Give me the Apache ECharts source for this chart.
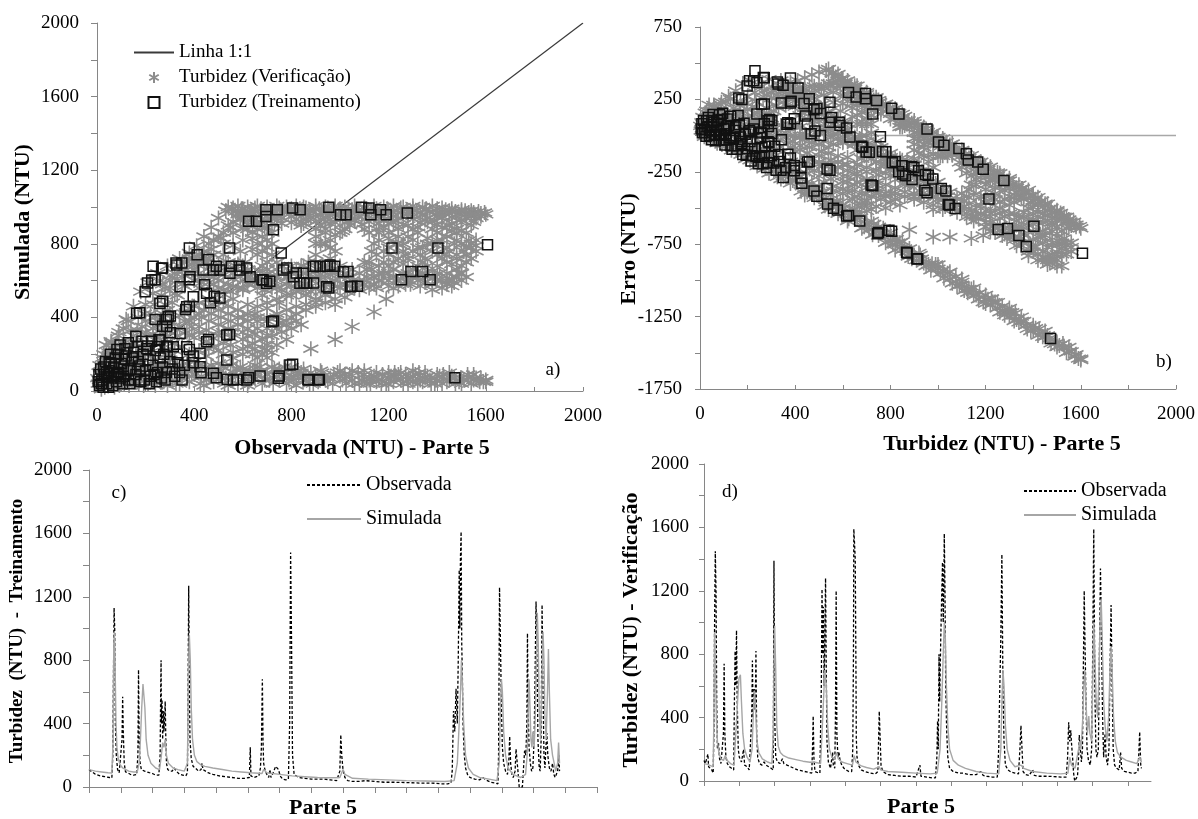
<!DOCTYPE html>
<html>
<head>
<meta charset="utf-8">
<script src="https://cdn.jsdelivr.net/npm/echarts@6/dist/echarts.min.js"></script>
<style>
  html, body { margin: 0; padding: 0; background: #fff; }
  #chart { width: 1198px; height: 819px; }
</style>
</head>
<body>
<div id="chart"></div>
<script>
// ---- Scatter pairs [observada, simulada] in NTU ----
const verificacao = [
  // low-turbidity cluster
  [5,40],[10,60],[15,90],[20,30],[25,120],[30,70],[35,150],[40,50],[45,100],[50,180],[55,80],[60,130],[65,40],[70,200],[75,110],[80,60],[85,160],[90,90],[95,220],[100,130],[105,50],[110,180],[115,100],[120,240],[125,70],[130,150],[140,200],[150,110],[160,260],[170,80],[180,180],[190,130],[200,60],[12,140],[22,180],[32,20],[42,170],[52,40],[62,230],[72,20],[82,140],[92,30],[102,80],[112,40],[122,120],[132,30],[142,90],[152,50],[162,140],[172,40],[182,100],[192,30],[8,100],[18,10],[28,200],[48,210],[68,150],[3,70],[38,250],[58,270],[78,250],[88,300],[108,340],[128,380],
  [140,260],[150,300],[165,330],[185,350],[200,380],[220,420],[205,300],[230,340],[250,380],[270,420],[240,280],[260,330],[280,370],[300,420],[290,300],[320,340],[310,260],[330,300],[340,350],[360,380],[370,320],[390,350],[160,180],[200,200],[240,170],[280,200],[320,220],
  // rising limbs
  [60,260],[90,320],[120,390],[150,460],[180,540],[210,590],[250,640],[290,680],[340,720],[380,750],[410,790],[440,840],[470,890],[500,940],[530,980],[560,995],
  [80,200],[110,260],[140,330],[170,400],[200,470],[230,530],[270,580],[310,620],[350,660],[390,690],[430,720],[470,770],[510,830],[550,890],[590,940],[630,975],
  [120,180],[160,240],[200,320],[240,400],[280,470],[320,530],[360,570],[400,600],[440,630],[490,660],[540,700],[590,760],[640,830],[690,890],[740,940],[790,975],
  [180,150],[220,210],[260,280],[300,350],[340,410],[380,450],[420,480],[460,500],[500,520],[550,540],[600,560],[650,600],[700,660],[940,920],[1000,960],
  [250,140],[300,190],[350,240],[400,290],[450,330],[500,360],[550,380],[600,400],[650,420],[700,450],[750,480],[800,520],[850,560],
  [350,120],[400,160],[450,190],[500,220],[550,250],[600,280],[650,310],[700,340],[750,370],[800,400],
  [195,420],[235,470],[265,520],[300,560],[330,600],[360,630],[420,680],[460,720],[480,680],[520,740],[560,790],[600,820],[620,880],[660,910],[700,930],[720,970],[680,960],[610,700],[660,740],[720,800],[840,920],[870,950],[930,970],[400,400],[440,440],[480,470],[520,480],[560,500],[620,470],[680,520],[720,560],[780,620],[840,680],[900,740],[960,820],[1020,880],[1060,930],
  [260,600],[280,560],[300,600],[320,640],[340,680],[360,700],[380,720],[400,700],[420,740],[440,760],[460,800],[480,820],[500,840],[520,860],[540,900],[560,920],[580,960],[600,960],[640,960],[560,860],[600,880],[520,800],[480,740],[440,700],[400,720],[370,660],[350,580],[330,520],[310,480],[290,440],[270,400],[250,360],[230,310],[210,260],[190,230],[170,200],
  // upper plateau
  [600,990],[650,995],[700,985],[750,995],[800,990],[850,1000],[900,985],[950,995],[1000,990],[1050,985],[1100,995],[1150,990],[1200,985],[1250,995],[1300,990],[1350,985],[1400,990],[1450,980],[1500,975],[1550,970],[1600,960],[1580,965],[1520,960],
  [620,950],[680,960],[740,955],[800,950],[860,960],[920,955],[980,960],[1040,950],[1100,960],[1160,955],[1220,950],[1280,960],[1340,955],[1400,950],[1460,945],[1540,950],
  [760,910],[840,900],[900,920],[960,910],[1040,900],[1120,920],[1200,910],[1280,900],[1360,920],[1440,900],[1480,880],[1520,860],
  [540,1000],[580,1005],[620,1000],[660,1005],[700,1000],[740,1005],[780,1000],[820,1005],[860,995],[900,1005],[940,1000],[980,1005],[1020,1000],[1060,1005],[1100,1000],[1140,1005],[1180,1000],[1220,1005],[1260,1000],[1300,1005],[1340,1000],[1380,1005],[1420,995],[1460,990],[1500,985],[1540,980],
  [570,975],[610,970],[650,975],[690,970],[730,975],[770,970],[810,975],[850,970],[890,975],[930,970],[970,975],[1010,970],[1050,975],[1090,970],[1130,975],[1170,970],[1210,975],[1250,970],[1290,975],[1330,970],[1370,975],[1410,970],[1450,965],[1490,960],[1530,970],[1570,975],
  [590,930],[650,935],[700,925],[860,930],[920,935],[960,930],[1010,935],[1060,925],[1140,935],[1180,930],[1230,925],[1300,935],[1350,930],[1390,925],[1420,940],[1500,930],[1560,940],
  [660,880],[700,890],[940,880],[1010,870],[1150,880],[1180,890],[1240,880],[1320,890],[1380,880],[1420,890],[1460,870],[1540,900],
  [555,985],[595,990],[635,985],[675,990],[715,980],[755,985],[795,980],[835,990],[875,980],[915,990],[955,980],[995,985],[1035,990],[1075,980],[1115,985],[1155,980],[1195,990],[1235,980],[1275,985],[1315,980],[1355,990],[1395,980],[1435,985],[1475,975],[1515,980],[1555,960],[1595,970],
  [600,945],[640,940],[680,935],[720,945],[760,940],[820,935],[880,945],[940,940],[1000,945],[1060,940],[1120,945],[1180,950],[1240,940],[1300,950],[1360,940],[1420,950],[1480,945],[1520,940],[1580,950],
  [620,905],[680,915],[730,905],[800,915],[850,910],[920,900],[980,915],[1030,920],[1090,905],[1160,910],[1220,915],[1260,905],[1330,915],[1400,905],[1460,910],[1500,915],[1550,920],
  // band near 800
  [900,800],[960,780],[1140,800],[1200,780],[1260,800],[1320,780],[1380,800],[1440,780],[1500,800],[1540,800],[1560,790],[1480,860],[1500,870],[1000,860],[1100,880],[1200,860],[1300,880],[1400,860],[1450,900],[1240,840],[1360,830],[1420,820],[1150,740],[1270,740],[1350,720],[1450,760],[1540,780],
  [700,780],[720,740],[740,700],[920,800],[960,720],[980,760],[900,650],[950,680],[1130,760],[1160,820],[1180,760],[1230,800],[1260,760],[1300,820],[1330,740],[1380,760],[1400,820],[1430,740],[1470,800],[1510,760],[1530,820],[1560,760],[1130,660],[1180,640],[1220,660],[1280,640],[1320,680],[1360,620],[1400,680],[1440,640],[1480,660],[1520,620],[1460,600],[1500,640],[1520,700],[1480,720],
  [640,860],[680,840],[720,860],[700,820],[660,800],[640,770],[680,760],[900,880],[940,860],[980,850],[900,840],[940,800],[1120,860],[1160,860],[1200,830],[1240,800],[1280,840],[1320,860],[1360,800],[1400,790],[1440,840],[1480,820],[1520,780],[1560,820],[1200,740],[1240,720],[1300,760],[1340,780],[1420,720],[1480,740],[1520,740],[1120,700],[1160,680],[1220,700],[1280,720],[1360,680],[1400,740],[1440,700],[1500,680],[1540,720],[1460,690],
  // band near 600
  [500,600],[560,610],[620,620],[680,600],[740,620],[800,600],[860,640],[920,620],[980,600],[1040,620],[1100,600],[1160,640],[1220,620],[1280,600],[1340,640],[1400,600],[1440,580],[1480,620],[1500,600],[1420,560],[600,680],[700,700],[800,680],[900,700],[1000,680],[1100,700],[1200,680],[1300,660],[1380,650],[1060,560],[1140,580],[1240,570],[1320,600],[960,550],[880,540],[1180,700],[1260,690],[1340,700],
  [400,660],[420,640],[450,700],[480,620],[500,650],[530,690],[560,640],[590,620],[620,660],[650,640],[680,680],[710,620],[740,660],[770,640],[800,650],[830,620],[850,680],[880,600],[910,660],[940,620],[970,650],[1000,620],[1020,580],[1050,600],[1080,640],[1110,620],
  [420,560],[460,590],[500,560],[540,580],[580,560],[620,580],[660,560],[700,580],[740,560],[780,580],[820,560],[860,580],[900,560],[940,580],[990,570],[1030,540],[1080,550],[1120,560],[1160,600],[1200,600],[1250,610],[1300,620],[1350,590],[1390,620],[1450,610],
  [390,640],[410,700],[440,610],[470,650],[500,690],[520,630],[550,660],[580,690],[610,640],[640,610],[670,650],[700,640],[730,600],[760,680],[790,620],[820,660],[850,640],[870,700],[900,620],[930,680],[960,630],[990,660],[1020,640],[1050,660],[1080,600],[1110,660],[1140,620],[1170,600],[1200,640],[1230,600],[1260,640],[1290,580],[1320,620],[1350,640],[1380,580],[1410,640],[1440,600],[1470,590],[1490,640],
  [430,590],[480,580],[520,550],[560,570],[600,550],[650,590],[690,550],[720,590],[760,550],[800,570],[840,550],[880,570],[920,540],[960,580],[1000,560],[1040,570],[1100,580],[1150,560],[1200,570],[1270,580],[1330,570],[1380,550],[1420,600],[1460,570],
  // lower fan
  [380,380],[420,420],[460,460],[500,440],[540,460],[580,440],[620,420],[660,460],[700,480],[740,500],[780,520],[820,540],[860,520],[900,500],[940,520],[980,500],[1020,510],
  [420,350],[460,380],[500,320],[540,340],[580,360],[620,340],[660,380],[700,400],[740,420],[780,440],[820,460],[860,470],[900,480],
  [450,270],[500,300],[550,290],[600,320],[640,260],[680,280],[720,300],[760,320],[800,340],[840,360],
  [480,240],[520,260],[560,210],[600,230],[640,200],[700,220],[740,250],[780,280],
  [360,420],[400,460],[430,400],[470,420],[510,400],[540,420],[580,400],[620,380],[660,400],[700,380],[740,400],[780,380],[820,420],[860,440],[900,460],[940,480],[980,470],
  [380,300],[420,320],[460,300],[520,320],[560,320],[620,300],[660,340],[700,300],[740,340],[780,360],[820,380],
  [380,200],[420,220],[460,230],[520,200],[560,180],[600,200],[620,240],[660,180],[690,230],
  [720,210],[880,230],[980,280],[1050,350],[1140,430],[1190,500],[1220,560],
  // bottom band
  [200,90],[250,80],[300,100],[350,70],[400,90],[450,60],[500,80],[550,60],[600,100],[650,70],[700,90],[750,60],[800,80],[850,60],[900,70],[950,50],[1000,80],[1050,60],[1100,70],[1150,50],[1200,70],[1250,60],[1300,50],[1350,70],[1400,60],[1450,60],[1500,70],[1550,60],[1600,60],
  [250,150],[300,170],[350,140],[400,160],[450,130],[500,150],[550,140],[600,120],[650,140],[700,180],[750,120],[1100,90],[1130,70],[1200,100],[1220,50],[1270,90],[1280,60],[1300,80],[1330,60],
  [225,120],[275,50],[325,40],[375,110],[425,40],[475,110],[525,40],[575,120],[625,50],[675,110],[725,40],[775,100],[825,110],[875,40],[925,100],[975,90],[1025,40],[1075,100],[1125,40],[1175,90],[1225,100],[1325,100],[1375,40],[1425,90],[1475,40],[1525,90],[1575,50],[800,130],[850,120],[700,250],[680,200],[650,230],
  [210,40],[230,70],[260,110],[280,90],[310,60],[330,130],[360,100],[380,50],[410,120],[430,80],[460,90],[480,50],[510,110],[530,70],[560,100],[580,40],[610,70],[630,110],[660,90],[680,40],[710,60],[730,120],[760,90],[780,40],[810,60],[830,90],[860,80],[880,100],[910,50],[930,80],[960,70],[990,100],[1010,60],[1040,90],[1060,40],[1090,60],[1110,40],[1140,80],[1160,60],[1190,40],[1210,80],[1240,90],[1260,40],[1290,70],[1310,90],[1340,50],[1360,80],[1390,40],[1410,80],[1440,50],[1460,80],[1490,50],[1510,60],[1540,40],[1560,70],[1590,50],
  [220,100],[240,30],[270,140],[290,30],[320,110],[340,40],[370,150],[390,80],[420,140],[440,30],[470,140],[490,80],[520,130],[540,30],[570,80],[590,130],[620,30],[640,100],[670,130],[690,60],[720,130],[740,80],[770,130],[790,60],[820,30],[840,100],[870,70],[890,40],[920,110],[940,60],[970,40],[1000,110],[1020,90],[1050,110],[1080,40],[1100,110],[1120,60],[1150,100],[1170,40],[1200,40],[1230,80],[1250,100],[1280,40],[1300,110],[1320,40],[1350,100],[1370,60],[1400,90],[1420,40],[1450,100],[1470,70],[1500,40],[1530,70],[1550,90],[1580,70],[1600,50]
];

const treinamento = [
  [695,985],[742,985],[805,994],[836,985],[954,999],[1002,958],[1025,958],[1088,999],[1119,994],[1127,958],[1167,985],[1190,958],[1277,967],[624,922],[656,922],[726,876],[695,949],[758,750],[1214,777],[1403,777],[1607,795],[546,777],[380,777],[412,741],[325,696],[349,696],[231,678],[270,669],[459,714],[491,678],[553,678],[585,678],[616,669],[679,605],[711,596],[781,669],[820,641],[852,587],[891,587],[899,678],[947,678],[978,678],[954,560],[1033,650],[1049,569],[1072,569],[1253,605],[1292,650],[1340,650],[1371,605],
  [208,587],[239,605],[380,605],[443,578],[483,515],[506,506],[467,479],[365,443],[380,461],[270,488],[176,425],[302,407],[286,389],[546,307],[459,280],[380,226],[396,190],[333,154],[396,154],[428,99],[491,72],[536,63],[577,63],[624,72],[671,81],[750,81],[805,145],[868,63],[915,63],[726,380],[1473,72],
  [239,389],[270,352],[302,316],[255,280],[208,244],[286,244],[160,298],[129,262],[82,226],[113,172],[50,154],[176,136],
  [198,540],[266,667],[328,685],[383,621],[437,658],[479,658],[506,658],[547,640],[588,658],[630,621],[684,603],[698,585],[767,658],[808,621],[849,640],[890,676],[918,676],[959,685],[1014,648],[1043,567],[945,567],[863,585],[835,585],
  [342,567],[396,512],[451,531],[369,458],[259,476],[293,404],[287,350],[342,313],[259,277],[314,241],[369,241],[424,205],[451,268],[534,304],[719,377],[534,168],[424,132],[479,96],[561,60],[616,60],[746,69],[794,141],[870,60],[911,60],[163,422],[225,603],
  [10,30],[20,60],[30,90],[40,40],[50,110],[60,70],[70,130],[80,50],[90,100],[100,150],[110,80],[120,190],[130,60],[140,120],[150,210],[160,90],[170,160],[180,50],[190,200],[200,110],[210,170],[220,80],[230,140],[240,220],[250,100],[260,180],[270,130],[280,60],[290,240],[300,160],
  [15,120],[25,20],[35,160],[45,80],[55,200],[65,30],[75,180],[85,90],[95,250],[105,40],[115,230],[125,110],[135,40],[145,180],[155,60],[165,240],[175,120],[185,270],[195,60],[205,230],[215,40],[225,270],[235,90],[245,50],[255,240],[265,70],[275,200],[285,100],[310,120],[320,80],[330,200],[340,100],[350,60],[360,140],[5,50],[8,90],[18,40],[28,130],[38,100],[48,20],[58,150],[68,100],[78,80],[88,200],[98,70],[108,120]
];

// Reference lines
const linha11 = [[0, 0], [2000, 2000]];
const linhaZero = [[0, 0], [2000, 0]];

// ---- Time series [time step, NTU], training period ----
const obsTreino = [
  [0,110],[10,95],[20,80],[35,70],[50,65],[65,60],[72,58],[75,200],[77,700],[79,1130],[81,1000],[83,400],[86,200],[90,110],[95,90],[100,100],[104,300],[106,570],[108,350],[111,150],[115,95],[122,90],[130,80],[140,75],[150,78],[154,200],[156,740],[158,300],[161,150],[165,110],[170,120],[175,100],[182,95],[190,90],[200,85],[210,75],[220,75],[224,200],[226,650],[227,800],[228,400],[230,550],[232,300],[234,480],[236,350],[238,420],[240,540],[242,300],[244,150],[248,110],[255,100],[262,100],[268,120],[275,100],[285,80],[295,75],[305,70],[310,90],[312,600],[314,1270],[316,700],[318,300],[322,180],[328,130],[335,120],[345,100],[353,110],[356,150],[359,110],[365,100],[375,90],[390,80],[410,70],[430,65],[450,60],[470,55],[490,55],[505,60],[508,250],[510,70],[520,60],[535,70],[540,120],[543,250],[546,680],[548,300],[550,150],[555,100],[560,80],[566,60],[570,110],[573,60],[580,90],[588,130],[592,140],[597,110],[602,70],[610,50],[620,45],[628,50],[632,400],[635,1480],[638,900],[641,200],[646,80],[660,60],[680,55],[700,50],[720,50],[740,50],[760,45],[780,40],[790,100],[793,330],[796,200],[800,110],[806,60],[815,40],[830,35],[850,35],[870,40],[900,35],[930,30],[960,30],[1000,28],[1040,25],[1080,25],[1110,20],[1130,20],[1140,25],[1144,100],[1148,480],[1152,350],[1156,620],[1160,400],[1163,800],[1166,1370],[1168,1000],[1170,1450],[1172,1610],[1174,900],[1176,700],[1178,400],[1182,200],[1186,120],[1192,80],[1200,60],[1215,50],[1230,45],[1240,60],[1250,45],[1265,30],[1280,25],[1288,20],[1290,200],[1293,1260],[1296,900],[1299,500],[1302,250],[1306,150],[1312,100],[1318,80],[1322,150],[1325,320],[1328,150],[1332,80],[1336,60],[1342,100],[1345,240],[1348,230],[1351,100],[1355,0],[1360,0],[1365,0],[1368,100],[1372,230],[1376,200],[1379,400],[1381,970],[1383,500],[1386,250],[1390,150],[1394,100],[1398,120],[1402,300],[1405,700],[1408,1170],[1411,800],[1414,300],[1418,120],[1421,100],[1424,300],[1427,1150],[1430,600],[1433,200],[1436,120],[1439,250],[1442,340],[1445,200],[1450,120],[1455,100],[1460,150],[1464,80],[1468,60],[1472,50],[1476,100],[1480,200],[1482,100]
];
const simTreino = [
  [0,110],[20,100],[40,95],[60,90],[72,88],[76,300],[78,900],[80,980],[82,800],[85,400],[88,250],[92,180],[98,140],[106,120],[112,110],[125,100],[140,95],[152,95],[158,150],[162,300],[166,500],[170,650],[173,640],[176,500],[180,300],[186,200],[195,150],[210,120],[222,110],[228,200],[232,280],[236,250],[240,300],[244,200],[250,150],[265,120],[280,110],[300,100],[310,150],[313,700],[316,960],[319,800],[322,500],[326,300],[332,200],[340,160],[352,140],[365,130],[390,120],[420,110],[450,100],[480,95],[510,90],[545,85],[550,110],[560,90],[600,80],[640,70],[680,65],[720,60],[760,58],[790,60],[800,110],[806,80],[830,55],[880,50],[940,45],[1000,40],[1060,38],[1120,35],[1150,40],[1160,150],[1166,400],[1170,600],[1173,800],[1176,650],[1180,400],[1186,200],[1195,120],[1210,80],[1230,60],[1260,50],[1285,40],[1292,150],[1296,500],[1299,680],[1302,600],[1306,350],[1312,200],[1320,120],[1335,80],[1360,60],[1375,80],[1380,200],[1383,450],[1386,680],[1389,500],[1392,300],[1395,250],[1398,350],[1402,250],[1405,400],[1409,800],[1412,1100],[1415,900],[1418,500],[1422,300],[1426,600],[1430,980],[1433,800],[1436,450],[1440,300],[1444,600],[1447,870],[1450,600],[1454,300],[1460,200],[1465,150],[1470,100],[1476,150],[1479,280],[1482,150]
];

// ---- Time series [time step, NTU], verification period ----
const obsVerif = [
  [0,130],[4,110],[8,100],[11,170],[13,90],[18,80],[22,70],[26,50],[28,300],[30,1000],[32,1450],[34,1200],[36,500],[38,200],[41,240],[44,140],[48,110],[52,100],[55,300],[57,740],[59,300],[62,150],[66,110],[72,90],[78,80],[84,70],[86,500],[88,820],[90,600],[92,950],[94,500],[97,200],[100,150],[106,120],[112,200],[115,100],[122,90],[128,70],[133,60],[135,400],[137,760],[139,400],[142,580],[145,450],[147,820],[149,300],[152,150],[157,110],[164,100],[170,120],[176,100],[183,90],[190,80],[196,70],[198,1390],[200,400],[203,150],[208,120],[215,110],[222,140],[226,110],[235,100],[245,90],[255,80],[265,70],[275,65],[285,60],[295,55],[305,50],[307,200],[309,410],[311,150],[314,60],[320,55],[328,50],[332,600],[334,1210],[336,800],[338,1100],[340,600],[342,900],[344,1280],[346,700],[348,250],[352,120],[358,80],[362,70],[364,180],[366,100],[370,80],[372,400],[374,1200],[376,300],[379,150],[382,180],[385,130],[390,100],[396,80],[402,70],[410,60],[418,60],[421,200],[423,800],[424,1590],[426,1500],[428,1400],[430,700],[431,270],[433,150],[437,100],[445,70],[455,60],[470,50],[485,45],[492,60],[494,250],[496,440],[498,300],[501,100],[506,60],[520,40],[540,35],[560,30],[580,30],[600,25],[611,100],[614,30],[630,25],[645,20],[655,20],[659,150],[661,380],[663,200],[665,800],[667,500],[670,900],[673,1200],[675,1380],[677,1000],[679,1300],[680,1560],[682,1200],[684,600],[687,300],[690,150],[695,80],[705,60],[720,50],[734,50],[750,40],[770,40],[783,60],[790,35],[800,30],[815,25],[830,25],[834,200],[837,580],[840,900],[843,1430],[846,600],[849,250],[853,100],[860,70],[870,55],[880,50],[890,45],[894,200],[897,350],[900,200],[903,60],[910,40],[920,35],[930,70],[935,35],[950,30],[970,30],[990,28],[1010,25],[1025,25],[1029,150],[1032,370],[1035,250],[1038,320],[1040,240],[1043,150],[1046,50],[1049,0],[1053,0],[1057,30],[1060,150],[1062,290],[1065,200],[1068,120],[1071,200],[1073,600],[1076,1200],[1078,900],[1081,500],[1084,200],[1088,130],[1093,100],[1097,200],[1100,800],[1103,1590],[1106,600],[1109,200],[1112,150],[1116,200],[1119,800],[1122,1340],[1125,900],[1128,400],[1131,150],[1135,300],[1138,150],[1142,100],[1146,200],[1149,700],[1152,1110],[1155,600],[1158,200],[1162,100],[1168,80],[1175,70],[1179,180],[1182,80],[1190,60],[1200,55],[1210,50],[1220,50],[1228,60],[1230,150],[1233,310],[1236,100],[1238,80]
];
const simVerif = [
  [0,110],[10,105],[20,95],[26,90],[28,400],[30,940],[32,800],[35,400],[38,250],[42,180],[48,140],[55,130],[60,160],[66,130],[75,110],[85,100],[90,300],[95,500],[99,650],[103,670],[106,500],[110,300],[115,200],[122,150],[130,120],[136,200],[140,450],[143,570],[146,450],[150,250],[155,180],[165,140],[180,120],[192,110],[196,300],[198,700],[200,980],[203,700],[206,350],[210,220],[216,180],[225,160],[240,145],[260,135],[280,125],[300,118],[310,120],[320,115],[330,110],[334,300],[338,500],[342,700],[346,600],[350,350],[355,200],[362,150],[370,140],[376,180],[380,140],[390,120],[405,110],[420,100],[425,160],[430,120],[445,95],[460,85],[480,75],[496,90],[500,70],[520,60],[560,55],[600,50],[640,45],[660,50],[668,200],[673,500],[677,800],[680,1000],[683,900],[686,600],[690,350],[695,200],[705,130],[720,100],[740,80],[770,60],[800,50],[834,45],[840,200],[843,500],[846,700],[849,600],[853,350],[858,200],[866,130],[880,90],[897,100],[905,80],[930,60],[970,50],[1010,45],[1030,50],[1035,150],[1040,100],[1050,80],[1060,200],[1063,250],[1067,200],[1072,400],[1075,600],[1078,700],[1081,500],[1085,300],[1089,410],[1092,300],[1097,250],[1100,600],[1103,1000],[1106,800],[1110,500],[1114,400],[1118,700],[1121,1000],[1124,1150],[1127,900],[1131,500],[1135,350],[1140,250],[1145,400],[1149,700],[1152,850],[1155,700],[1159,400],[1164,250],[1170,180],[1180,150],[1195,130],[1210,120],[1225,110],[1233,150],[1238,120]
];

// Tick positions of the verification time axis
const ticksVerif = [0,100,200,300,400,500,600,700,800,900,1000,1100,1200];

// Error = simulated - observed
const erroVerificacao = verificacao.map(p => [p[0], p[1] - p[0]]);
const erroTreinamento = treinamento.map(p => [p[0], p[1] - p[0]]);

const FONT = '"Liberation Serif", "Times New Roman", serif';
const AXIS_GRAY = '#868686';
const STAR_GRAY = '#8c8c8c';
const STAR = 'path://M5,0L5,10M0.67,2.5L9.33,7.5M0.67,7.5L9.33,2.5';
const SQUARE = 'path://M0,0L10,0L10,10L0,10Z';
const CLEAR = 'rgba(0,0,0,0)';

const chart = echarts.init(document.getElementById('chart'), null, { renderer: 'canvas' });

function valueAxis(gridIndex, o) {
  return Object.assign({
    type: 'value',
    gridIndex: gridIndex,
    splitLine: { show: false },
    axisLine: { show: true, onZero: false, lineStyle: { color: AXIS_GRAY, width: 1 } },
    axisTick: { show: true, lineStyle: { color: AXIS_GRAY } },
    axisLabel: { color: '#000', fontFamily: FONT, fontSize: 19 }
  }, o);
}

function labelsEvery(step, base) {
  return v => ((v - base) % step === 0 ? String(v) : '');
}

const titleFont = 'bold 22px ' + FONT;
function title(text, x, y, rot, font) {
  return {
    type: 'text', x: x, y: y, rotation: rot || 0, silent: true,
    style: { text: text, font: font || titleFont, fill: '#000',
             align: 'center', verticalAlign: 'middle',
             textAlign: 'center', textVerticalAlign: 'middle' }
  };
}

const legendText = { fontFamily: FONT, fontSize: 19, color: '#000' };
const hiddenMarker = { opacity: 0 };
const starStyle = { color: CLEAR, borderColor: STAR_GRAY, borderWidth: 1.6, opacity: 1 };
const squareStyle = { color: CLEAR, borderColor: '#111', borderWidth: 1.5, opacity: 1 };

const option = {
  backgroundColor: '#fff',
  animation: false,
  grid: [
    { left: 97, top: 23, width: 486, height: 368 },
    { left: 700, top: 27, width: 480, height: 362 },
    { left: 89, top: 470, width: 508, height: 317 },
    { left: 704, top: 464, width: 447, height: 317 }
  ],
  xAxis: [
    valueAxis(0, { min: 0, max: 2000, interval: 200,
      axisTick: { show: true, inside: true, length: 4, lineStyle: { color: AXIS_GRAY } },
      axisLabel: { color: '#000', fontFamily: FONT, fontSize: 19, margin: 16, formatter: labelsEvery(400, 0) } }),
    valueAxis(1, { min: 0, max: 2000, interval: 200,
      axisTick: { show: true, inside: true, length: 4, lineStyle: { color: AXIS_GRAY } },
      axisLabel: { color: '#000', fontFamily: FONT, fontSize: 19, margin: 16, formatter: labelsEvery(400, 0) } }),
    valueAxis(2, { min: 0, max: 1600, interval: 100,
      axisTick: { show: true, length: 6, lineStyle: { color: AXIS_GRAY } },
      axisLabel: { show: false } }),
    valueAxis(3, { min: 0, max: 1265,
      axisTick: { show: true, length: 5, customValues: ticksVerif, lineStyle: { color: AXIS_GRAY } },
      axisLabel: { show: false } })
  ],
  yAxis: [
    valueAxis(0, { min: 0, max: 2000, interval: 200,
      axisTick: { show: true, length: 6, lineStyle: { color: AXIS_GRAY } },
      axisLabel: { color: '#000', fontFamily: FONT, fontSize: 19, margin: 18, formatter: labelsEvery(400, 0) } }),
    valueAxis(1, { min: -1750, max: 750, interval: 250,
      axisTick: { show: true, length: 5, lineStyle: { color: AXIS_GRAY } },
      axisLabel: { color: '#000', fontFamily: FONT, fontSize: 19, margin: 18, formatter: labelsEvery(500, -1750) } }),
    valueAxis(2, { min: 0, max: 2000, interval: 200,
      axisTick: { show: true, length: 6, lineStyle: { color: AXIS_GRAY } },
      axisLabel: { color: '#000', fontFamily: FONT, fontSize: 19, margin: 17, formatter: labelsEvery(400, 0) } }),
    valueAxis(3, { min: 0, max: 2000, interval: 200,
      axisTick: { show: true, length: 5, lineStyle: { color: AXIS_GRAY } },
      axisLabel: { color: '#000', fontFamily: FONT, fontSize: 19, margin: 15, formatter: labelsEvery(400, 0) } })
  ],
  legend: [
    { orient: 'vertical', left: 133, top: 43, padding: 0, itemWidth: 40, itemHeight: 11, itemGap: 6,
      selectedMode: false, textStyle: legendText,
      data: [{ name: 'Linha 1:1', itemStyle: hiddenMarker }, 'Turbidez (Verificação)', 'Turbidez (Treinamento)'] },
    { orient: 'vertical', left: 306, top: 475, padding: 0, itemWidth: 54, itemHeight: 14, itemGap: 14,
      selectedMode: false, itemStyle: hiddenMarker,
      textStyle: Object.assign({}, legendText, { fontSize: 20 }),
      data: ['Observada', 'Simulada'] },
    { orient: 'vertical', left: 1023, top: 481, padding: 0, itemWidth: 52, itemHeight: 14, itemGap: 4,
      selectedMode: false, itemStyle: hiddenMarker,
      textStyle: Object.assign({}, legendText, { fontSize: 20 }),
      data: ['Observada', 'Simulada'] }
  ],
  series: [
    { name: 'Linha 1:1', type: 'line', xAxisIndex: 0, yAxisIndex: 0, data: linha11,
      symbol: 'none', silent: true, itemStyle: { color: CLEAR },
      lineStyle: { color: '#3a3a3a', width: 1.2 }, z: 1 },
    { name: 'Turbidez (Verificação)', type: 'scatter', xAxisIndex: 0, yAxisIndex: 0,
      data: verificacao, symbol: STAR, symbolSize: 15, silent: true, z: 2, itemStyle: starStyle },
    { name: 'Turbidez (Treinamento)', type: 'scatter', xAxisIndex: 0, yAxisIndex: 0,
      data: treinamento, symbol: SQUARE, symbolSize: 10, silent: true, z: 3, itemStyle: squareStyle },

    { name: 'Zero', type: 'line', xAxisIndex: 1, yAxisIndex: 1, data: linhaZero,
      symbol: 'none', silent: true, itemStyle: { color: CLEAR },
      lineStyle: { color: '#a8a8a8', width: 1.5 }, z: 1 },
    { name: 'Erro (Verificação)', type: 'scatter', xAxisIndex: 1, yAxisIndex: 1,
      data: erroVerificacao, symbol: STAR, symbolSize: 15, silent: true, z: 2, itemStyle: starStyle },
    { name: 'Erro (Treinamento)', type: 'scatter', xAxisIndex: 1, yAxisIndex: 1,
      data: erroTreinamento, symbol: SQUARE, symbolSize: 10, silent: true, z: 3, itemStyle: squareStyle },

    { name: 'Observada', type: 'line', xAxisIndex: 2, yAxisIndex: 2, data: obsTreino,
      symbol: 'none', silent: true, z: 2, itemStyle: { color: CLEAR },
      lineStyle: { color: '#000', width: 1.3, type: [3, 2] } },
    { name: 'Simulada', type: 'line', xAxisIndex: 2, yAxisIndex: 2, data: simTreino,
      symbol: 'none', silent: true, z: 3, itemStyle: { color: CLEAR },
      lineStyle: { color: '#a6a6a6', width: 1.4 } },
    { name: 'Observada', type: 'line', xAxisIndex: 3, yAxisIndex: 3, data: obsVerif,
      symbol: 'none', silent: true, z: 2, itemStyle: { color: CLEAR },
      lineStyle: { color: '#000', width: 1.3, type: [3, 2] } },
    { name: 'Simulada', type: 'line', xAxisIndex: 3, yAxisIndex: 3, data: simVerif,
      symbol: 'none', silent: true, z: 3, itemStyle: { color: CLEAR },
      lineStyle: { color: '#a6a6a6', width: 1.4 } }
  ],
  graphic: [
    title('Simulada (NTU)', 23, 222, Math.PI / 2),
    title('Observada (NTU) - Parte 5', 362, 448),
    title('Erro (NTU)', 629, 249, Math.PI / 2),
    title('Turbidez (NTU) - Parte 5', 1002, 444),
    title('Turbidez  (NTU)  -  Treinamento', 17, 631, Math.PI / 2, 'bold 19px ' + FONT),
    title('Parte 5', 323, 808),
    title('Turbidez (NTU) - Verificação', 631, 630, Math.PI / 2),
    title('Parte 5', 921, 807),
    title('a)', 553, 370, 0, '19px ' + FONT),
    title('b)', 1164, 362, 0, '19px ' + FONT),
    title('c)', 119, 493, 0, '19px ' + FONT),
    title('d)', 730, 492, 0, '19px ' + FONT)
  ]
};

chart.setOption(option);
</script>
</body>
</html>
